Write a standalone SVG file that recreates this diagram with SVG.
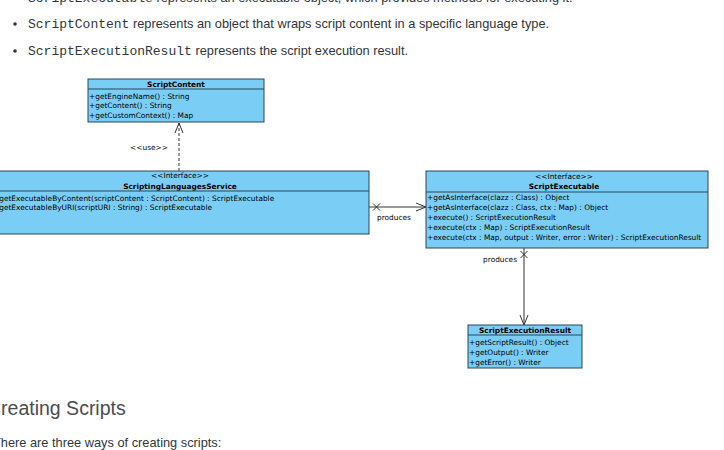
<svg xmlns="http://www.w3.org/2000/svg" width="724" height="450" viewBox="0 0 724 450">
<style>
.mono{font-family:"Liberation Mono","DejaVu Sans Mono",monospace;font-size:13px;fill:#32363a}
.body{font-family:"Liberation Sans","Noto Sans",sans-serif;font-size:12.8px;fill:#32363a}
.box{fill:#7acdf4;stroke:#2a4758;stroke-width:1}
.sep{stroke:#2a4758;stroke-width:1}
.t{font-family:"DejaVu Sans","Liberation Sans",sans-serif;font-size:7.4px;fill:#000}
.b{font-weight:bold}
.c{text-anchor:middle}
.ln{stroke:#333;stroke-width:1;fill:none}
</style>
<defs>
<marker id="open" viewBox="0 0 10 10" refX="10" refY="5" markerWidth="10" markerHeight="10" markerUnits="userSpaceOnUse" orient="auto">
<path d="M0,1 L10,5 L0,9" fill="none" stroke="#333" stroke-width="1"/>
</marker>
</defs>
<rect width="724" height="450" fill="#fff"/>
<g id="text">
<circle cx="15" cy="-2" r="1.8" fill="#32363a"/>
<text x="28" y="2"><tspan class="mono">ScriptExecutable</tspan><tspan class="body"> represents an executable object, which provides methods for executing it.</tspan></text>
<circle cx="15" cy="24" r="1.8" fill="#32363a"/>
<text x="28" y="28"><tspan class="mono">ScriptContent</tspan><tspan class="body"> represents an object that wraps script content in a specific language type.</tspan></text>
<circle cx="15" cy="51" r="1.8" fill="#32363a"/>
<text x="28" y="55"><tspan class="mono">ScriptExecutionResult</tspan><tspan class="body"> represents the script execution result.</tspan></text>
<text x="-13" y="415" font-family="Liberation Sans, sans-serif" font-size="19.5" fill="#4a4d50">Creating Scripts</text>
<text x="-7" y="447" class="body">There are three ways of creating scripts:</text>
</g>
<g id="connectors">
<line x1="179" y1="171" x2="179" y2="123" class="ln" stroke-dasharray="3,2" marker-end="url(#open)"/>
<text x="149" y="150" class="t c">&lt;&lt;use&gt;&gt;</text>
<line x1="369" y1="207" x2="426" y2="207" class="ln" marker-end="url(#open)"/>
<path d="M373,203.5 L380,210.5 M380,203.5 L373,210.5" class="ln"/>
<text x="394" y="219.5" class="t c">produces</text>
<line x1="524" y1="248" x2="524" y2="325" class="ln" marker-end="url(#open)"/>
<path d="M520.5,251 L527.5,258 M527.5,251 L520.5,258" class="ln"/>
<text x="517" y="261.5" class="t" text-anchor="end">produces</text>
</g>
<g id="ScriptContent">
<rect x="88" y="79" width="176" height="43" class="box"/>
<line x1="88" y1="89" x2="264" y2="89" class="sep"/>
<text x="176" y="86.5" class="t b c">ScriptContent</text>
<text x="89" y="98.5" class="t">+getEngineName() : String</text>
<text x="89" y="108" class="t">+getContent() : String</text>
<text x="89" y="117.5" class="t">+getCustomContext() : Map</text>
</g>
<g id="ScriptingLanguagesService">
<rect x="-9" y="171" width="378" height="63" class="box"/>
<line x1="-9" y1="191" x2="369" y2="191" class="sep"/>
<text x="180" y="178" class="t c">&lt;&lt;Interface&gt;&gt;</text>
<text x="180" y="188.5" class="t b c">ScriptingLanguagesService</text>
<text x="-7" y="200.5" class="t">+getExecutableByContent(scriptContent : ScriptContent) : ScriptExecutable</text>
<text x="-7" y="210" class="t">+getExecutableByURI(scriptURI : String) : ScriptExecutable</text>
</g>
<g id="ScriptExecutable">
<rect x="426" y="171" width="282" height="77" class="box"/>
<line x1="426" y1="192" x2="708" y2="192" class="sep"/>
<text x="564" y="178.5" class="t c">&lt;&lt;Interface&gt;&gt;</text>
<text x="564" y="189" class="t b c">ScriptExecutable</text>
<text x="427" y="200" class="t">+getAsInterface(clazz : Class) : Object</text>
<text x="427" y="210" class="t">+getAsInterface(clazz : Class, ctx : Map) : Object</text>
<text x="427" y="220" class="t">+execute() : ScriptExecutionResult</text>
<text x="427" y="230" class="t">+execute(ctx : Map) : ScriptExecutionResult</text>
<text x="427" y="240" class="t">+execute(ctx : Map, output : Writer, error : Writer) : ScriptExecutionResult</text>
</g>
<g id="ScriptExecutionResult">
<rect x="468" y="325" width="114" height="43" class="box"/>
<line x1="468" y1="335" x2="582" y2="335" class="sep"/>
<text x="525" y="332.5" class="t b c">ScriptExecutionResult</text>
<text x="469" y="345" class="t">+getScriptResult() : Object</text>
<text x="469" y="355" class="t">+getOutput() : Writer</text>
<text x="469" y="364.5" class="t">+getError() : Writer</text>
</g>
</svg>
